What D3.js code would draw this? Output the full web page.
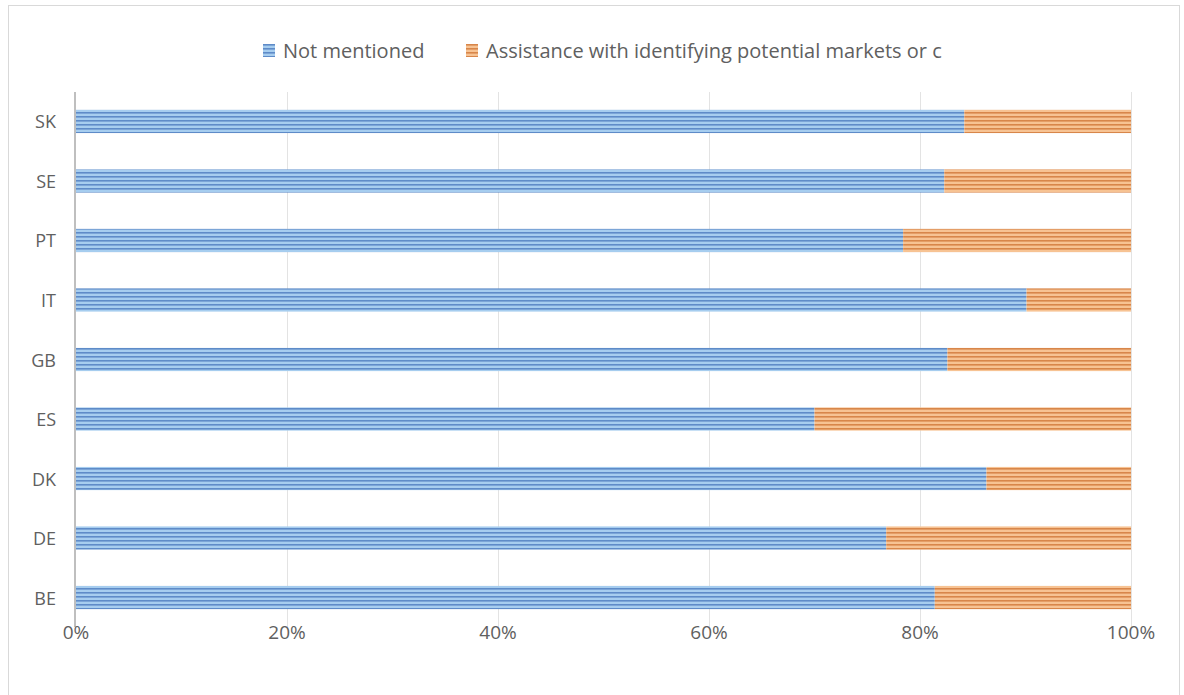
<!DOCTYPE html>
<html>
<head>
<meta charset="utf-8">
<script src="https://cdn.jsdelivr.net/npm/d3@7"></script>
<style>
  html, body { margin: 0; padding: 0; background: #fff; }
  svg { display: block; }
  text { font-family: "Open Sans", "DejaVu Sans", sans-serif; fill: #606060; }
</style>
</head>
<body>
<svg id="chart" width="1184" height="695"></svg>
<script>
// Countries, listed bottom to top as drawn
const countries = ["BE", "DE", "DK", "ES", "GB", "IT", "PT", "SE", "SK"];
// Share of responses (%) per country
const notMentioned = [81.4, 76.8, 86.3, 70.0, 82.6, 90.1, 78.4, 82.3, 84.2];
const assistance   = [18.6, 23.2, 13.7, 30.0, 17.4, 9.9, 21.6, 17.7, 15.8];
const seriesNames = ["Not mentioned", "Assistance with identifying potential markets or c"];
const tickValues = [0, 20, 40, 60, 80, 100];

const W = 1184, H = 695;
const margin = { left: 76, right: 53, top: 92, bottom: 70 };

const svg = d3.select("#chart");

// striped fills for the two series
const defs = svg.append("defs");
const stripes = [
  { id: "stripeBlue", dark: "#5e8bc8", light: "#a6cdef" },
  { id: "stripeOrange", dark: "#d8864a", light: "#f7c393" }
];
stripes.forEach(s => {
  const p = defs.append("pattern")
    .attr("id", s.id)
    .attr("patternUnits", "userSpaceOnUse")
    .attr("width", 8).attr("height", 4);
  p.append("rect").attr("width", 8).attr("height", 4).attr("fill", s.light);
  p.append("rect").attr("width", 8).attr("height", 1.6).attr("fill", s.dark);
});
const fills = ["url(#stripeBlue)", "url(#stripeOrange)"];

// outer frame
svg.append("rect")
  .attr("x", 8.5).attr("y", 5.5)
  .attr("width", 1171).attr("height", 700)
  .attr("fill", "#fff").attr("stroke", "#d9d9d9");

const x = d3.scaleLinear().domain([0, 100]).range([margin.left, W - margin.right]);
const y = d3.scaleBand().domain(countries.slice().reverse())
  .range([margin.top, H - margin.bottom + 2]).paddingInner(0.61).paddingOuter(0.3);

// vertical gridlines
svg.append("g")
  .selectAll("line")
  .data(tickValues.filter(v => v > 0))
  .join("line")
  .attr("x1", d => x(d) + 0.5).attr("x2", d => x(d) + 0.5)
  .attr("y1", margin.top).attr("y2", H - margin.bottom + 2)
  .attr("stroke", "#e3e3e3").attr("stroke-width", 1);

// stacked bars
const stackData = countries.map((c, i) => ({ c, a: notMentioned[i], b: assistance[i] }));
const stacked = d3.stack().keys(["a", "b"])(stackData);
svg.append("g")
  .selectAll("g")
  .data(stacked)
  .join("g")
  .attr("fill", (d, i) => fills[i])
  .selectAll("rect")
  .data(d => d)
  .join("rect")
  .attr("x", d => x(d[0]))
  .attr("width", d => x(d[1]) - x(d[0]))
  .attr("y", d => y(d.data.c))
  .attr("height", y.bandwidth());

// category axis line
svg.append("line")
  .attr("x1", margin.left - 1).attr("x2", margin.left - 1)
  .attr("y1", margin.top).attr("y2", H - margin.bottom + 2)
  .attr("stroke", "#bfbfbf").attr("stroke-width", 2);

// category labels
svg.append("g")
  .selectAll("text")
  .data(countries)
  .join("text")
  .attr("x", 56)
  .attr("y", d => y(d) + y.bandwidth() / 2)
  .attr("text-anchor", "end")
  .attr("dominant-baseline", "central")
  .attr("font-size", 18)
  .text(d => d);

// value axis labels
svg.append("g")
  .selectAll("text")
  .data(tickValues)
  .join("text")
  .attr("x", d => x(d))
  .attr("y", 632)
  .attr("text-anchor", "middle")
  .attr("dominant-baseline", "central")
  .attr("font-size", 19)
  .text(d => d + "%");

// legend
const legend = svg.append("g");
const legendItems = [
  { name: seriesNames[0], x: 263 },
  { name: seriesNames[1], x: 466 }
];
legendItems.forEach((it, i) => {
  legend.append("rect")
    .attr("x", it.x).attr("y", 44)
    .attr("width", 12).attr("height", 13)
    .attr("fill", fills[i]);
  legend.append("text")
    .attr("x", it.x + 20).attr("y", 50)
    .attr("dominant-baseline", "central")
    .attr("font-size", 20)
    .text(it.name);
});
</script>
</body>
</html>
